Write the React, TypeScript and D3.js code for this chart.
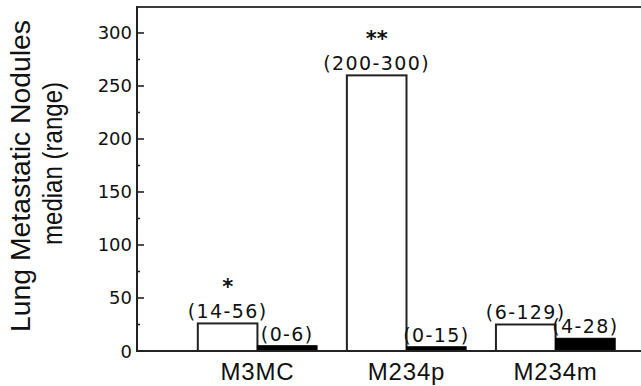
import React from "react";
import * as d3 from "d3";

const categories = ["M3MC", "M234p", "M234m"];
const seriesKeys = ["open", "filled"];
const openValues = [26, 260, 25];
const filledValues = [5, 4, 12];
const openRanges = ["(14-56)", "(200-300)", "(6-129)"];
const filledRanges = ["(0-6)", "(0-15)", "(4-28)"];
const significance = ["*", "**", ""];
const majorTicks = [0, 50, 100, 150, 200, 250, 300];
const minorTicks = [25, 75, 125, 175, 225, 275];
const titleLine1 = "Lung Metastatic Nodules";
const titleLine2 = "median (range)";

const W = 641;
const H = 386;
const plotLeft = 137;
const plotRight = 641;
const plotTop = 7;
const plotBottom = 351;
const ink = "#222";

export default function App() {
  const y = d3.scaleLinear().domain([0, 324.5]).range([plotBottom, plotTop]);
  const x = d3
    .scaleBand<string>()
    .domain(categories)
    .range([168, 645])
    .paddingInner(0.2)
    .paddingOuter(0.2);
  const xi = d3.scaleBand<string>().domain(seriesKeys).range([0, x.bandwidth()]);
  const bw = xi.bandwidth();

  const annFont = { fontFamily: "DejaVu Sans", fontSize: 19, letterSpacing: 1.4 };

  return (
    <svg
      width={W}
      height={H}
      style={{ position: "absolute", left: 0, top: 0, background: "#fff" }}
    >
      <rect x={0} y={0} width={W} height={H} fill="#fff" />
      <line x1={plotLeft} x2={plotRight} y1={plotTop} y2={plotTop} stroke="#3a3a3a" strokeWidth={2.2} />
      <line x1={plotLeft} x2={plotLeft} y1={plotTop - 1} y2={plotBottom + 1} stroke={ink} strokeWidth={2} />

      {categories.map((c, i) => {
        const gx = x(c) as number;
        const ox = gx + (xi("open") as number);
        const fx = gx + (xi("filled") as number);
        return (
          <g key={c}>
            <rect
              x={ox}
              y={y(openValues[i])}
              width={bw}
              height={plotBottom - y(openValues[i])}
              fill="#fff"
              stroke={ink}
              strokeWidth={2}
            />
            <rect
              x={fx}
              y={y(filledValues[i])}
              width={bw}
              height={plotBottom - y(filledValues[i])}
              fill="#000"
              stroke="#000"
              strokeWidth={1}
            />
            <text
              x={ox + bw / 2}
              y={y(openValues[i]) - 5}
              textAnchor="middle"
              fill="#111"
              style={annFont}
            >
              {openRanges[i]}
            </text>
            <text
              x={fx + bw / 2}
              y={y(filledValues[i]) - 5}
              textAnchor="middle"
              fill="#111"
              style={annFont}
            >
              {filledRanges[i]}
            </text>
            {significance[i] && (
              <text
                x={ox + bw / 2}
                y={y(openValues[i]) - 29}
                textAnchor="middle"
                fill="#111"
                style={{ fontFamily: "DejaVu Sans", fontSize: 21, fontWeight: "bold" }}
              >
                {significance[i]}
              </text>
            )}
            <text
              x={gx + x.bandwidth() / 2}
              y={380}
              textAnchor="middle"
              fill="#111"
              style={{ fontFamily: "Liberation Sans", fontSize: 24, letterSpacing: 0.8 }}
            >
              {c}
            </text>
          </g>
        );
      })}

      <line x1={plotLeft - 1} x2={plotRight} y1={plotBottom} y2={plotBottom} stroke={ink} strokeWidth={2} />

      {majorTicks.map((t) => (
        <g key={t}>
          {t > 0 && (
            <line x1={plotLeft} x2={plotLeft + 7} y1={y(t)} y2={y(t)} stroke={ink} strokeWidth={1.6} />
          )}
          <text
            x={132}
            y={y(t) + 6.5}
            textAnchor="end"
            fill="#111"
            style={{ fontFamily: "DejaVu Sans", fontSize: 18 }}
          >
            {t}
          </text>
        </g>
      ))}
      {minorTicks.map((t) => (
        <line key={t} x1={plotLeft} x2={plotLeft + 3} y1={y(t)} y2={y(t)} stroke={ink} strokeWidth={1.6} />
      ))}

      <text
        transform={`translate(30,176) rotate(-90)`}
        textAnchor="middle"
        fill="#111"
        textLength={312}
        lengthAdjust="spacingAndGlyphs"
        style={{ fontFamily: "Liberation Sans", fontSize: 27 }}
      >
        {titleLine1}
      </text>
      <text
        transform={`translate(62,163.5) rotate(-90)`}
        textAnchor="middle"
        fill="#111"
        textLength={163}
        lengthAdjust="spacingAndGlyphs"
        style={{ fontFamily: "Liberation Sans", fontSize: 27 }}
      >
        {titleLine2}
      </text>
    </svg>
  );
}
